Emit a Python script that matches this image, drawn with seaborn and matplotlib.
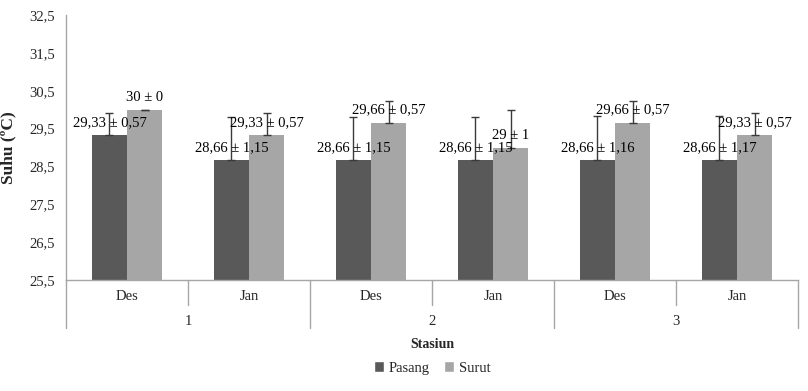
import matplotlib
matplotlib.use("Agg")
import matplotlib.pyplot as plt
import seaborn as sns
import pandas as pd

# data
stasiun = ['1', '1', '2', '2', '3', '3']
bulan = ['Des', 'Jan', 'Des', 'Jan', 'Des', 'Jan']
pasang = [29.33, 28.66, 28.66, 28.66, 28.66, 28.66]
pasang_sd = [0.57, 1.15, 1.15, 1.15, 1.16, 1.17]
surut = [30, 29.33, 29.66, 29, 29.66, 29.33]
surut_sd = [0, 0.57, 0.57, 1, 0.57, 0.57]
y_ticks = [25.5, 26.5, 27.5, 28.5, 29.5, 30.5, 31.5, 32.5]

sns.set_style("white")
plt.rcParams['font.family'] = ['Liberation Serif', 'DejaVu Serif']

cats = [f"{s}-{b}" for s, b in zip(stasiun, bulan)]
df = pd.DataFrame({
    'cat': cats * 2,
    'seri': ['Pasang'] * 6 + ['Surut'] * 6,
    'suhu': pasang + surut,
    'sd': pasang_sd + surut_sd,
})


def fmt(v):
    return f"{v:g}".replace('.', ',')


fig = plt.figure(figsize=(8.08, 3.91), dpi=100)
ax = fig.add_axes([66 / 808, 1 - 280 / 391, 732 / 808, 265 / 391])
sns.barplot(data=df, x='cat', y='suhu', hue='seri', order=cats,
            palette={'Pasang': '#595959', 'Surut': '#a6a6a6'},
            width=0.574, errorbar=None, saturation=1, ax=ax)

# upward error bars and value labels
for cont, vals, sds in zip(ax.containers, [pasang, surut], [pasang_sd, surut_sd]):
    for bar, v, e in zip(cont, vals, sds):
        bar.set_edgecolor('none')
        xc = bar.get_x() + bar.get_width() / 2
        ax.errorbar(xc, v, yerr=[[0], [e]], fmt='none', ecolor='#3a3a3a',
                    elinewidth=1, capsize=3, capthick=1)
        ax.annotate(f"{fmt(v)} ± {fmt(e)}", (xc, v), xytext=(0, 9),
                    textcoords='offset points', ha='center', va='center',
                    fontsize=10.5, color='black')

ax.set_ylim(25.5, 32.5)
ax.set_xlim(-0.5, 5.5)
ax.set_yticks(y_ticks)
ax.set_yticklabels([fmt(t) for t in y_ticks], fontsize=10.5)
ax.tick_params(axis='y', length=4, color='#a6a6a6', pad=4)
ax.set_xticks([])
ax.set_xlabel('')
ax.set_ylabel('Suhu (ºC)', fontsize=12.5, fontweight='bold')
ax.yaxis.set_label_coords(-0.068, 0.5)
for side in ['top', 'right']:
    ax.spines[side].set_visible(False)
for side in ['left', 'bottom']:
    ax.spines[side].set_color('#a6a6a6')
    ax.spines[side].set_linewidth(1)

# two-level category axis
tr = ax.get_xaxis_transform()
for i in range(7):
    xb = i - 0.5
    low = -0.181 if i % 2 == 0 else -0.094
    ax.plot([xb, xb], [0, low], transform=tr, color='#a6a6a6', lw=1, clip_on=False)
for i, b in enumerate(bulan):
    ax.text(i, -0.064, b, transform=tr, ha='center', va='center', fontsize=10.5)
for j, s in enumerate(stasiun[::2]):
    ax.text(2 * j + 0.5, -0.158, s, transform=tr, ha='center', va='center', fontsize=10.5)

fig.text(432 / 808, 1 - 345 / 391, 'Stasiun', ha='center', va='center',
         fontsize=10, fontweight='bold')

handles, labels = ax.get_legend_handles_labels()
ax.legend_.remove()
fig.legend(handles, labels, loc='center', bbox_to_anchor=(432 / 808, 1 - 368 / 391),
           ncol=2, frameon=False, fontsize=10.5, handlelength=0.7, handleheight=0.7,
           handletextpad=0.3, columnspacing=1.0)

fig.savefig('out.png', dpi=100)
